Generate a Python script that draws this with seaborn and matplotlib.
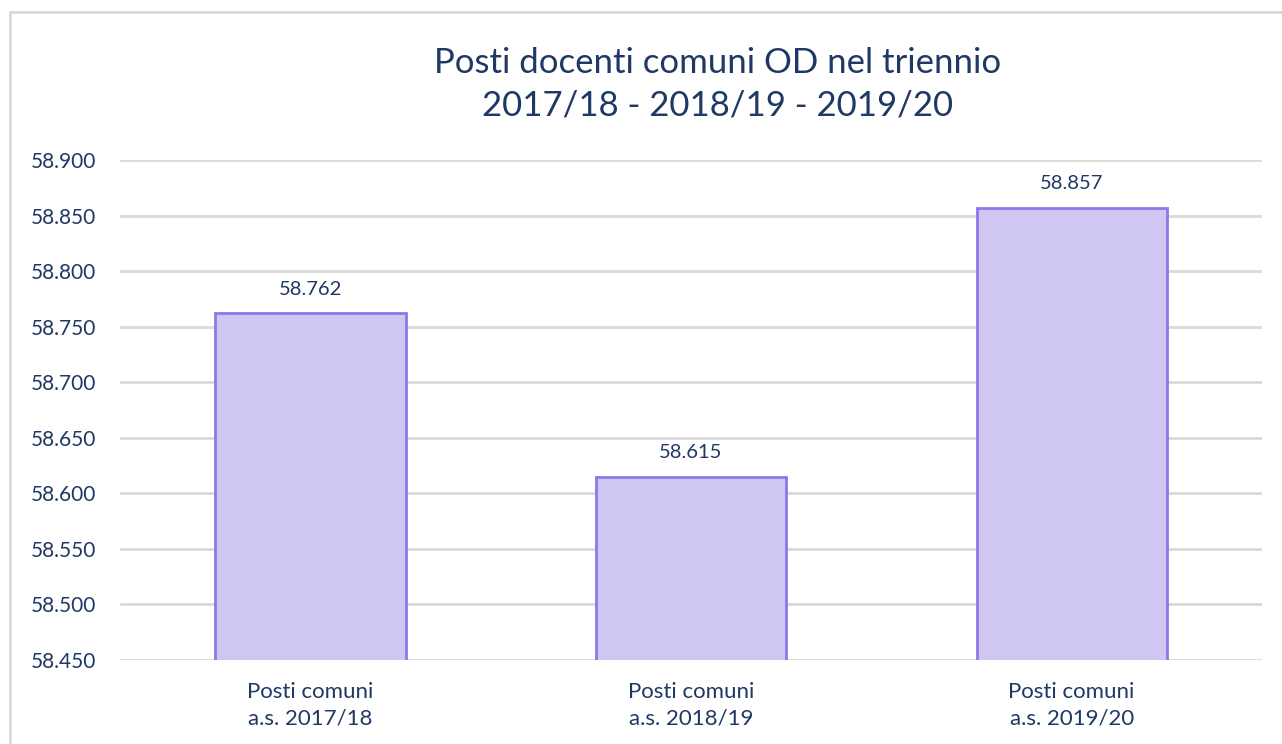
import matplotlib
matplotlib.use("Agg")
import matplotlib.pyplot as plt
import seaborn as sns
import pandas as pd
from matplotlib.patches import Rectangle
from matplotlib.ticker import FuncFormatter, MultipleLocator

# data
categories = ["Posti comuni\na.s. 2017/18", "Posti comuni\na.s. 2018/19", "Posti comuni\na.s. 2019/20"]
values = [58762, 58615, 58857]
title = "Posti docenti comuni OD nel triennio\n2017/18 - 2018/19 - 2019/20"

df = pd.DataFrame({"cat": categories, "val": values})

sns.set_style("white")
plt.rcParams["font.family"] = ["Lato", "DejaVu Sans"]

navy = "#1F3864"
fill = "#CFC7F2"
edge = "#8E78E6"
grid = "#D9D9D9"

def dotfmt(v, pos=None):
    return f"{int(round(v)):,}".replace(",", ".")

fig = plt.figure(figsize=(12.82, 7.44), dpi=100)
ax = fig.add_axes([120 / 1282, 1 - 660 / 744, 1142 / 1282, 500 / 744])

sns.barplot(data=df, x="cat", y="val", color=fill, width=0.5, saturation=1,
            edgecolor=edge, linewidth=2, ax=ax, zorder=3)

ax.set_ylim(58450, 58900)
ax.yaxis.set_major_locator(MultipleLocator(50))
ax.yaxis.set_major_formatter(FuncFormatter(dotfmt))
ax.grid(axis="y", color=grid, linewidth=2, zorder=0)
ax.set_axisbelow(True)
for s in ax.spines.values():
    s.set_visible(False)
ax.set_xlabel("")
ax.set_ylabel("")
ax.tick_params(axis="y", length=0, labelsize=15, colors=navy, pad=17)
ax.tick_params(axis="x", length=0, labelsize=16, colors=navy, pad=16)
for lbl in ax.get_xticklabels():
    lbl.set_linespacing(1.4)

for i, v in enumerate(values):
    ax.annotate(dotfmt(v), (i, v), xytext=(0, 11), textcoords="offset points",
                ha="center", va="bottom", fontsize=14.5, color=navy)

fig.text(718 / 1282, 1 - 84 / 744, title, ha="center", va="center",
         fontsize=25, color=navy, linespacing=1.4)

# chart border
fig.patches.append(Rectangle((10 / 1282, -0.05), 1.1, 1 - 12 / 744 + 0.05,
                             transform=fig.transFigure, fill=False,
                             edgecolor=grid, linewidth=2, zorder=10))

fig.savefig("out.png", dpi=100)
